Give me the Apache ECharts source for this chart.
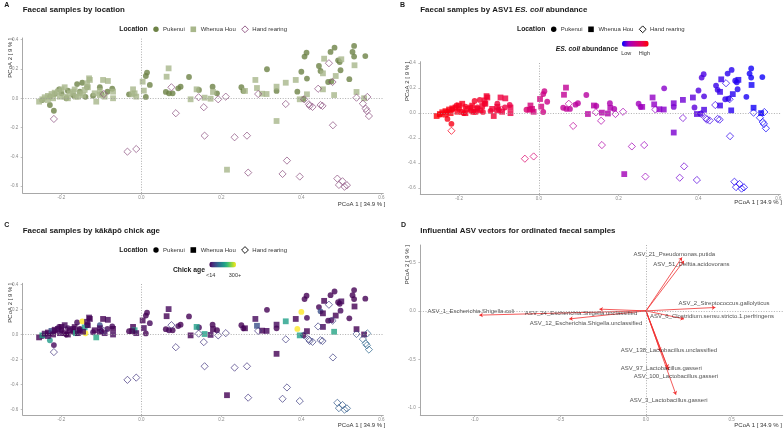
<!DOCTYPE html>
<html><head><meta charset="utf-8">
<script src="https://cdn.jsdelivr.net/npm/echarts@6/dist/echarts.min.js"></script>
<style>html,body{margin:0;padding:0;background:#fff}#c{width:784px;height:430px}</style>
</head><body><div id="c"></div>
<script>
// [PCoA1, PCoA2, relative E. coli (ASV1) abundance 0..1, chick age (days)]
const pukenui = [
[-0.229,-0.046,0.93,170],[-0.219,-0.085,0.93,20],[-0.161,0.097,0.88,20],[-0.148,0.106,0.87,300],
[-0.206,0.061,0.91,20],[-0.188,0.000,0.90,14],[-0.184,0.052,0.90,20],[-0.136,0.075,0.85,20],
[-0.104,0.075,0.82,85],[-0.073,0.065,0.78,20],[-0.200,0.034,0.91,14],[-0.229,0.011,0.93,14],
[-0.121,0.018,0.84,20],[-0.100,0.029,0.82,14],[-0.217,0.029,0.92,20],[-0.154,0.045,0.87,14],
[-0.248,-0.012,0.95,14],[-0.170,0.020,0.89,14],[-0.140,0.010,0.86,300],[-0.085,0.045,0.80,20],
[-0.031,0.027,0.62,14],
[0.014,0.175,0.52,14],[0.011,0.152,0.52,14],[0.021,0.091,0.50,20],[0.011,0.009,0.53,14],
[0.061,0.043,0.45,14],[0.069,0.034,0.44,20],[0.078,0.034,0.43,14],[0.092,0.068,0.42,20],
[0.098,0.079,0.42,14],[0.119,0.145,0.40,14],[0.144,0.057,0.38,20],[0.178,0.079,0.35,14],
[0.189,0.034,0.35,14],[0.250,0.075,0.28,14],[0.255,0.050,0.28,20],
[0.314,0.198,0.22,14],[0.338,0.050,0.20,14],[0.390,0.045,0.15,300],[0.400,0.181,0.13,300],
[0.414,0.134,0.12,20],[0.408,0.284,0.13,14],[0.413,0.311,0.12,14],[0.444,0.220,0.09,14],
[0.448,0.186,0.09,85],[0.467,0.111,0.08,14],[0.473,0.316,0.07,14],[0.483,0.345,0.06,14],
[0.492,0.259,0.06,14],[0.498,0.191,0.05,20],[0.520,0.130,0.04,14],[0.528,0.316,0.03,14],
[0.532,0.357,0.03,14],[0.532,0.284,0.03,14],[0.560,0.288,0.02,14],[0.496,0.247,0.05,14],
[0.405,-0.005,0.12,14],[0.475,0.115,0.07,20]
];
const whenuaHou = [
[-0.256,-0.023,0.97,14],[-0.248,-0.007,0.96,180],[-0.242,0.007,0.95,20],[-0.234,0.016,0.95,14],
[-0.225,0.029,0.94,85],[-0.217,0.038,0.93,14],[-0.209,0.045,0.92,20],[-0.200,0.061,0.91,14],
[-0.192,0.075,0.90,20],[-0.179,0.034,0.90,14],[-0.171,0.045,0.89,20],[-0.164,0.011,0.89,180],
[-0.154,0.034,0.88,14],[-0.142,0.057,0.87,170],[-0.134,0.075,0.86,20],[-0.131,0.136,0.85,20],
[-0.129,0.125,0.85,14],[-0.136,0.102,0.86,20],[-0.117,0.034,0.84,14],[-0.113,-0.023,0.84,185],
[-0.104,0.022,0.83,20],[-0.096,0.125,0.81,14],[-0.084,0.118,0.80,20],[-0.071,0.045,0.78,14],
[-0.071,0.000,0.78,20],[-0.184,0.000,0.90,14],[-0.204,0.011,0.92,20],[-0.221,0.000,0.94,14],
[-0.234,-0.012,0.95,20],[-0.159,0.011,0.88,14],[-0.092,0.011,0.81,20],[-0.192,0.011,0.91,14],
[-0.146,0.022,0.87,20],[-0.167,0.060,0.89,14],[-0.104,0.050,0.83,20],
[-0.021,0.061,0.58,14],[-0.017,0.034,0.58,180],[-0.013,0.011,0.57,20],[0.003,0.113,0.55,14],
[0.006,0.052,0.55,20],[-0.023,0.027,0.60,14],
[0.068,0.204,0.45,20],[0.063,0.147,0.45,14],[0.138,0.061,0.38,175],[0.123,-0.007,0.40,14],
[0.158,0.004,0.37,175],[0.173,-0.003,0.36,20],[0.179,0.043,0.35,14],[0.259,0.050,0.27,14],
[0.285,0.125,0.24,20],[0.289,0.070,0.24,85],[0.302,0.031,0.23,14],[0.313,0.029,0.22,20],
[0.214,-0.487,0.30,14],
[0.338,0.079,0.20,20],[0.361,0.106,0.18,175],[0.386,0.125,0.15,14],[0.396,-0.007,0.14,175],
[0.414,0.027,0.12,14],[0.454,0.061,0.09,20],[0.457,0.270,0.09,14],[0.454,0.170,0.09,14],
[0.482,0.022,0.06,180],[0.486,0.152,0.06,14],[0.500,0.266,0.05,20],[0.533,0.225,0.03,14],
[0.538,0.043,0.03,14],[0.557,0.000,0.02,14],[0.338,-0.155,0.20,14]
];
const handRearing = [
[-0.219,-0.141,0.92,60],[-0.094,0.029,0.80,60],[-0.035,-0.364,0.65,60],[-0.013,-0.346,0.60,60],
[0.075,0.075,0.44,60],[0.086,-0.102,0.43,60],[0.143,0.007,0.38,60],[0.156,-0.061,0.37,60],
[0.158,-0.255,0.37,60],[0.192,-0.007,0.34,60],[0.211,0.011,0.32,60],[0.233,-0.266,0.30,60],
[0.264,-0.255,0.27,60],[0.267,-0.507,0.27,60],[0.292,0.029,0.24,60],[0.361,-0.039,0.18,65],
[0.364,-0.425,0.18,65],[0.353,-0.516,0.19,65],[0.396,-0.534,0.14,70],[0.407,-0.007,0.12,70],
[0.419,-0.041,0.11,70],[0.421,-0.052,0.11,70],[0.428,-0.059,0.10,70],[0.442,0.065,0.09,70],
[0.448,-0.046,0.09,70],[0.453,-0.052,0.08,70],[0.469,0.239,0.07,65],[0.478,0.111,0.07,70],
[0.479,-0.184,0.07,70],[0.490,-0.548,0.05,95],[0.503,-0.566,0.05,95],[0.494,-0.591,0.05,100],
[0.508,-0.603,0.04,100],[0.514,-0.593,0.04,100],[0.538,0.004,0.03,85],[0.565,0.009,0.02,105],
[0.554,-0.037,0.02,105],[0.561,-0.071,0.02,110],[0.564,-0.087,0.02,110],[0.569,-0.121,0.02,110]
];
const asvNames = ['ASV_21_Pseudomonas.putida','ASV_51_Delftia.acidovorans','ASV_2_Streptococcus.gallolyticus',
 'ASV_6_Clostridium.sensu.stricto.1.perfringens','ASV_1_Escherichia.Shigella.coli','ASV_24_Escherichia.Shigella.unclassified',
 'ASV_12_Escherichia.Shigella.unclassified','ASV_138_Lactobacillus.unclassified','ASV_97_Lactobacillus.gasseri',
 'ASV_100_Lactobacillus.gasseri','ASV_3_Lactobacillus.gasseri'];
const asvVectors = [[0.210,0.552],[0.222,0.517],[0.405,0.035],[0.222,-0.083],[-0.973,-0.044],[-0.272,0.018],
 [-0.448,-0.083],[0.084,-0.417],[0.128,-0.589],[0.132,-0.613],[0.175,-0.865]];
const asvLabelAt = [[0.165,0.586],[0.265,0.476],[0.455,0.076],[0.385,-0.055],[-1.023,-0.003],[-0.379,-0.021],
 [-0.350,-0.124],[0.134,-0.406],[0.089,-0.593],[0.175,-0.675],[0.132,-0.923]];
const pcoTicksX = [-0.2,0,0.2,0.4,0.6];
const pcoTicksY = [-0.6,-0.4,-0.2,0,0.2,0.4];
const vecTicksX = [-1,-0.5,0,0.5];
const vecTicksY = [-1,-0.5,0,0.5];

const FONT = "'Liberation Sans', Arial, Helvetica, sans-serif";
const ecoliStops = ['#0000ff','#9a00c3','#c90089','#e80050','#ff0000'];
const viridis = ['#440154','#482878','#3e4989','#31688e','#26828e','#1f9e89','#35b779','#6ece58','#b5de2b','#fde725'];
const AGE_MIN = 14, AGE_MAX = 300;
const COL = {puk:'#6d8246', wh:'#a8b78b', hr:'#8b4f7f'};
const AXC = '#a8a8a8';
const SZ = {c:5.8, r:5.8, d:7.2};

function xAx(gi, min, max, ticks){
  return {type:'value', gridIndex:gi, min, max,
    axisLine:{show:true, onZero:false, lineStyle:{color:AXC, width:1}},
    axisTick:{show:true, length:2, customValues:ticks, lineStyle:{color:AXC, width:0.7}},
    axisLabel:{customValues:ticks, formatter:v=>v.toFixed(1), fontSize:4.5, color:'#8a8a8a', margin:2.5, fontFamily:FONT},
    splitLine:{show:false}};
}
function yAx(gi, min, max, ticks){
  const a = xAx(gi, min, max, ticks); a.axisLabel.margin = 4.5; return a;
}
const zeroLines = gi => ({type:'scatter', xAxisIndex:gi, yAxisIndex:gi, data:[], z:1, silent:true,
  markLine:{silent:true, symbol:['none','none'], label:{show:false}, animation:false,
    lineStyle:{type:[1,1.6], color:'#9a9a9a', width:0.8}, data:[{xAxis:0},{yAxis:0}]}});

function sc(gi, name, data, symbol, size, itemStyle){
  return {type:'scatter', name, xAxisIndex:gi, yAxisIndex:gi, data, symbol, symbolSize:size,
    itemStyle, z:3, silent:true, animation:false};
}
const clear = 'rgba(255,255,255,0)';
const hollow = (color) => ({color:clear, borderColor:color, borderWidth:0.9});

const series = [
  zeroLines(0), zeroLines(1), zeroLines(2), zeroLines(3),
  // A
  sc(0,'Pukenui', pukenui, 'circle', SZ.c, {color:COL.puk}),
  sc(0,'Whenua Hou', whenuaHou, 'rect', SZ.r, {color:COL.wh}),
  sc(0,'Hand rearing', handRearing, 'diamond', SZ.d, hollow(COL.hr)),
  // B (indices 7,8 coloured by visualMap)
  sc(1,'Pukenui', pukenui, 'circle', SZ.c, {}),
  sc(1,'Whenua Hou', whenuaHou, 'rect', SZ.r, {}),
  sc(1,'Hand rearing', handRearing.map(d=>({value:d, itemStyle:{borderColor:echarts.color.lerp(d[2], ecoliStops)}})),
     'diamond', SZ.d, {color:clear, borderWidth:0.9}),
  // C (indices 10,11 coloured by visualMap)
  sc(2,'Pukenui', pukenui, 'circle', SZ.c, {}),
  sc(2,'Whenua Hou', whenuaHou, 'rect', SZ.r, {}),
  sc(2,'Hand rearing', handRearing.map(d=>({value:d, itemStyle:{borderColor:echarts.color.lerp((d[3]-AGE_MIN)/(AGE_MAX-AGE_MIN), viridis)}})),
     'diamond', SZ.d, {color:clear, borderWidth:0.9}),
  // D
  {type:'lines', coordinateSystem:'cartesian2d', xAxisIndex:3, yAxisIndex:3, silent:true, animation:false, z:3,
   data: asvVectors.map(v=>({coords:[[0,0],v]})), symbol:['none','arrow'], symbolSize:3.5,
   lineStyle:{color:'#f03030', width:0.8, opacity:1}},
  {type:'scatter', xAxisIndex:3, yAxisIndex:3, silent:true, animation:false, z:4, symbol:'circle', symbolSize:0.01,
   itemStyle:{color:clear},
   data: asvLabelAt.map((p,i)=>({name:asvNames[i], value:p})),
   label:{show:true, position:'inside', formatter:'{b}', fontSize:6, color:'#1e1e1e', fontFamily:FONT}}
];

function T(x,y,text,o){
  o = o||{};
  return {type:'text', x, y, rotation:o.rot||0, silent:true, z:10, style:{text, fill:o.fill||'#1a1a1a',
    font:(o.italic?'italic ':'')+(o.bold?'bold ':'')+(o.size||6)+'px '+FONT, textAlign:o.align||'left',
    textVerticalAlign:'middle', verticalAlign:'middle', rich:o.rich}};
}
function legendRow(x0, y, black){
  const c = k => black ? '#000' : COL[k];
  return [
    T(x0, y, 'Location', {bold:true, size:6.8}),
    {type:'circle', shape:{cx:x0+36.7, cy:y, r:2.7}, style:{fill:c('puk')}, silent:true, z:10},
    T(x0+43.8, y, 'Pukenui', {size:6, fill:'#333'}),
    {type:'rect', shape:{x:x0+74-2.8, y:y-2.8, width:5.6, height:5.6}, style:{fill:c('wh')}, silent:true, z:10},
    T(x0+81.4, y, 'Whenua Hou', {size:6, fill:'#333'}),
    {type:'polygon', shape:{points:[[x0+125.7,y-3.4],[x0+129.1,y],[x0+125.7,y+3.4],[x0+122.3,y]]},
      style:{fill:'none', stroke:black?'#000':COL.hr, lineWidth:0.9}, silent:true, z:10},
    T(x0+133, y, 'Hand rearing', {size:6, fill:'#333'})
  ];
}
const richB = (sz)=>({b:{fontWeight:'bold', fontSize:sz, fontFamily:FONT, fill:'#1a1a1a'},
                      i:{fontWeight:'bold', fontStyle:'italic', fontSize:sz, fontFamily:FONT, fill:'#1a1a1a'}});
const TS = 7.9;
const graphic = [
  T(4.2,4.8,'A',{bold:true,size:7}), T(400,4.8,'B',{bold:true,size:7}),
  T(4.2,225,'C',{bold:true,size:7}), T(401,225,'D',{bold:true,size:7}),
  T(22.7,10,'Faecal samples by location',{bold:true,size:TS}),
  T(420.3,10,'{b|Faecal samples by ASV1 }{i|ES. coli}{b| abundance}',{bold:true,size:TS,rich:richB(TS)}),
  T(22.7,231,'Faecal samples by kākāpō chick age',{bold:true,size:TS}),
  T(420.3,231,'Influential ASV vectors for ordinated faecal samples',{bold:true,size:TS}),
  ...legendRow(119.3,29.3,false), ...legendRow(517,29.3,true), ...legendRow(119.3,250,true),
  T(618,49,'{i|ES. coli}{b| abundance}',{bold:true,size:6.8,align:'right',rich:richB(6.8)}),
  T(626.3,53.3,'Low',{size:5.5,fill:'#333',align:'center'}), T(644.3,53.3,'High',{size:5.5,fill:'#333',align:'center'}),
  T(205,270,'Chick age',{bold:true,size:6.8,align:'right'}),
  T(210.7,275.7,'<14',{size:5.5,fill:'#333',align:'center'}), T(235,275.7,'300+',{size:5.5,fill:'#333',align:'center'}),
  T(385.5,204,'PCoA 1 [ 34.9 % ]',{size:6,fill:'#333',align:'right'}),
  T(782,202.7,'PCoA 1 [ 34.9 % ]',{size:6,fill:'#333',align:'right'}),
  T(385.5,425.7,'PCoA 1 [ 34.9 % ]',{size:6,fill:'#333',align:'right'}),
  T(782,425.7,'PCoA 1 [ 34.9 % ]',{size:6,fill:'#333',align:'right'}),
  T(10.7,38.3,'PCoA 2 [ 9 % ]',{size:6,fill:'#333',align:'right',rot:Math.PI/2}),
  T(407,61.7,'PCoA 2 [ 9 % ]',{size:6,fill:'#333',align:'right',rot:Math.PI/2}),
  T(10.7,283.3,'PCoA 2 [ 9 % ]',{size:6,fill:'#333',align:'right',rot:Math.PI/2}),
  T(407,245,'PCoA 2 [ 9 % ]',{size:6,fill:'#333',align:'right',rot:Math.PI/2})
];

const XR = [-0.297, 0.605], YR = [-0.646, 0.411];
const option = {
  animation:false,
  backgroundColor:'#fff',
  textStyle:{fontFamily:FONT},
  grid:[
    {left:22.7, top:38, width:360.6, height:155, outerBoundsMode:'none'},
    {left:420.3, top:61.7, width:360, height:132.3, outerBoundsMode:'none'},
    {left:22.7, top:283.3, width:360.6, height:131.7, outerBoundsMode:'none'},
    {left:420.3, top:245, width:362.4, height:170, outerBoundsMode:'none'}
  ],
  xAxis:[xAx(0,XR[0],XR[1],pcoTicksX), xAx(1,XR[0],XR[1],pcoTicksX), xAx(2,XR[0],XR[1],pcoTicksX), xAx(3,-1.3175,0.798,vecTicksX)],
  yAxis:[yAx(0,YR[0],YR[1],pcoTicksY), yAx(1,YR[0],YR[1],pcoTicksY), yAx(2,YR[0],YR[1],pcoTicksY), yAx(3,-1.075,0.68,vecTicksY)],
  visualMap:[
    {type:'continuous', seriesIndex:[7,8], dimension:2, min:0, max:1, inRange:{color:ecoliStops},
     orient:'horizontal', left:622, top:40.7, itemWidth:6, itemHeight:26.7, calculable:false, padding:0, hoverLink:false},
    {type:'continuous', seriesIndex:[10,11], dimension:3, min:AGE_MIN, max:AGE_MAX, inRange:{color:viridis},
     orient:'horizontal', left:209.3, top:261.7, itemWidth:5.8, itemHeight:26.7, calculable:false, padding:0, hoverLink:false}
  ],
  series, graphic
};
const chart = echarts.init(document.getElementById('c'), null, {renderer:'canvas'});
chart.setOption(option);
</script></body></html>
